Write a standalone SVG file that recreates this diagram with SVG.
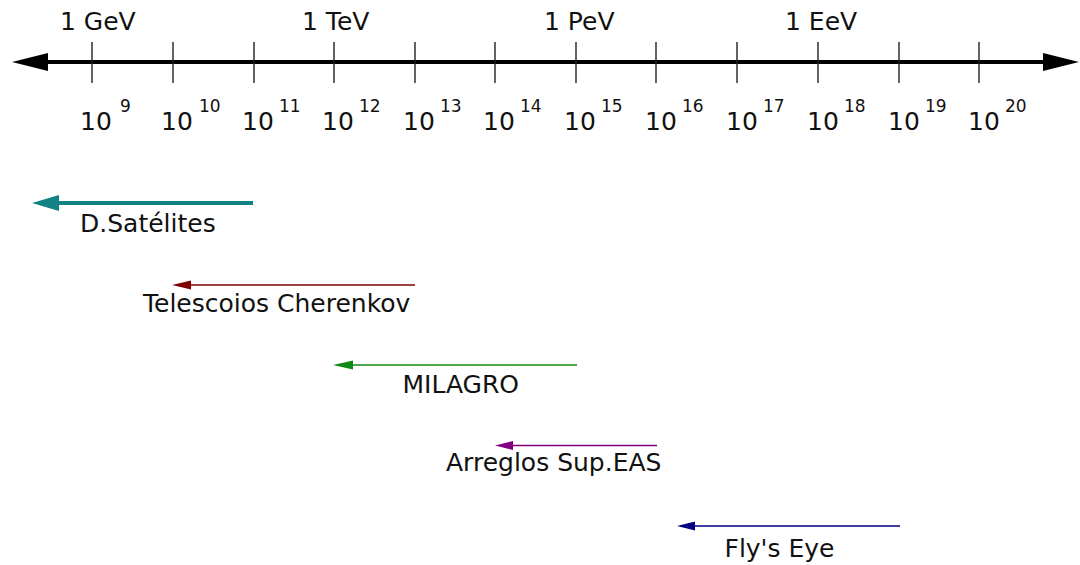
<svg xmlns="http://www.w3.org/2000/svg" width="1080" height="565" viewBox="0 0 1080 565">
<defs>
<style>
text{font-family:"DejaVu Sans","Liberation Sans",sans-serif;fill:#111}
.big{font-size:25px}
.sup{font-size:17px}
.tick{stroke:#222;stroke-width:1.4}
.axis{stroke:#000;stroke-width:4;fill:none}
.conn{fill:none;stroke-width:1.5}
.thick{stroke-width:4}
</style>
<marker id="ax" markerUnits="userSpaceOnUse" markerWidth="40" markerHeight="20" refX="0" refY="9" orient="auto-start-reverse" viewBox="0 0 40 20" overflow="visible"><path d="M-1,0 L35,9 L-1,18 Z" fill="#000"/></marker>
<marker id="mTeal" markerUnits="userSpaceOnUse" markerWidth="30" markerHeight="18" refX="0" refY="8" orient="auto" overflow="visible"><path d="M-1,0 L26,8 L-1,16 Z" fill="#128282"/></marker>
<marker id="mRed" markerUnits="userSpaceOnUse" markerWidth="20" markerHeight="10" refX="0" refY="4.5" orient="auto" overflow="visible"><path d="M-1,0 L18,4.5 L-1,9 Z" fill="#800000"/></marker>
<marker id="mGreen" markerUnits="userSpaceOnUse" markerWidth="20" markerHeight="10" refX="0" refY="4.5" orient="auto" overflow="visible"><path d="M-1,0 L19,4.5 L-1,9 Z" fill="#118811"/></marker>
<marker id="mPurple" markerUnits="userSpaceOnUse" markerWidth="20" markerHeight="10" refX="0" refY="4.5" orient="auto" overflow="visible"><path d="M-1,0 L17,4.5 L-1,9 Z" fill="#800080"/></marker>
<marker id="mBlue" markerUnits="userSpaceOnUse" markerWidth="20" markerHeight="10" refX="0" refY="4.5" orient="auto" overflow="visible"><path d="M-1,0 L17,4.5 L-1,9 Z" fill="#000080"/></marker>
</defs>
<rect width="1080" height="565" fill="#fff"/>
<g id="axis">
<line class="axis" x1="47" y1="62" x2="1044" y2="62" marker-start="url(#ax)" marker-end="url(#ax)"/>
<g id="ticks">
<line class="tick" x1="92" y1="42" x2="92" y2="83"/>
<line class="tick" x1="173" y1="42" x2="173" y2="83"/>
<line class="tick" x1="254" y1="42" x2="254" y2="83"/>
<line class="tick" x1="334" y1="42" x2="334" y2="83"/>
<line class="tick" x1="415" y1="42" x2="415" y2="83"/>
<line class="tick" x1="495" y1="42" x2="495" y2="83"/>
<line class="tick" x1="576" y1="42" x2="576" y2="83"/>
<line class="tick" x1="656" y1="42" x2="656" y2="83"/>
<line class="tick" x1="737" y1="42" x2="737" y2="83"/>
<line class="tick" x1="818" y1="42" x2="818" y2="83"/>
<line class="tick" x1="899" y1="42" x2="899" y2="83"/>
<line class="tick" x1="979" y1="42" x2="979" y2="83"/>
</g>
<g id="units">
<text class="big" x="60" y="30">1 GeV</text>
<text class="big" x="302" y="30">1 TeV</text>
<text class="big" x="544" y="30">1 PeV</text>
<text class="big" x="785" y="30">1 EeV</text>
</g>
<g id="powers">
<text class="big" x="80" y="130">10</text><text class="sup" x="120" y="112">9</text>
<text class="big" x="161" y="130">10</text><text class="sup" x="199" y="112">10</text>
<text class="big" x="242" y="130">10</text><text class="sup" x="279" y="112">11</text>
<text class="big" x="322" y="130">10</text><text class="sup" x="359" y="112">12</text>
<text class="big" x="403" y="130">10</text><text class="sup" x="440" y="112">13</text>
<text class="big" x="483" y="130">10</text><text class="sup" x="520" y="112">14</text>
<text class="big" x="564" y="130">10</text><text class="sup" x="601" y="112">15</text>
<text class="big" x="645" y="130">10</text><text class="sup" x="682" y="112">16</text>
<text class="big" x="726" y="130">10</text><text class="sup" x="763" y="112">17</text>
<text class="big" x="807" y="130">10</text><text class="sup" x="844" y="112">18</text>
<text class="big" x="888" y="130">10</text><text class="sup" x="925" y="112">19</text>
<text class="big" x="968" y="130">10</text><text class="sup" x="1005" y="112">20</text>
</g>
</g>
<g id="connectors">
<line class="conn thick" x1="253" y1="203" x2="58" y2="203" stroke="#128282" marker-end="url(#mTeal)"/>
<line class="conn" x1="415" y1="285" x2="190" y2="285" stroke="#800000" marker-end="url(#mRed)"/>
<line class="conn" x1="577" y1="365" x2="352" y2="365" stroke="#118811" marker-end="url(#mGreen)"/>
<line class="conn" x1="657" y1="445.5" x2="512" y2="445.5" stroke="#800080" marker-end="url(#mPurple)"/>
<line class="conn" x1="900" y1="526" x2="694" y2="526" stroke="#000080" marker-end="url(#mBlue)"/>
</g>
<g id="satelites"><text class="big" x="80" y="232">D.Satélites</text></g>
<g id="cherenkov"><text class="big" x="143" y="312">Telescoios Cherenkov</text></g>
<g id="milagro"><text class="big" x="402.5" y="393">MILAGRO</text></g>
<g id="eas"><text class="big" x="446" y="471">Arreglos Sup.EAS</text></g>
<g id="flyseye"><text class="big" x="724.5" y="557">Fly's Eye</text></g>
</svg>
